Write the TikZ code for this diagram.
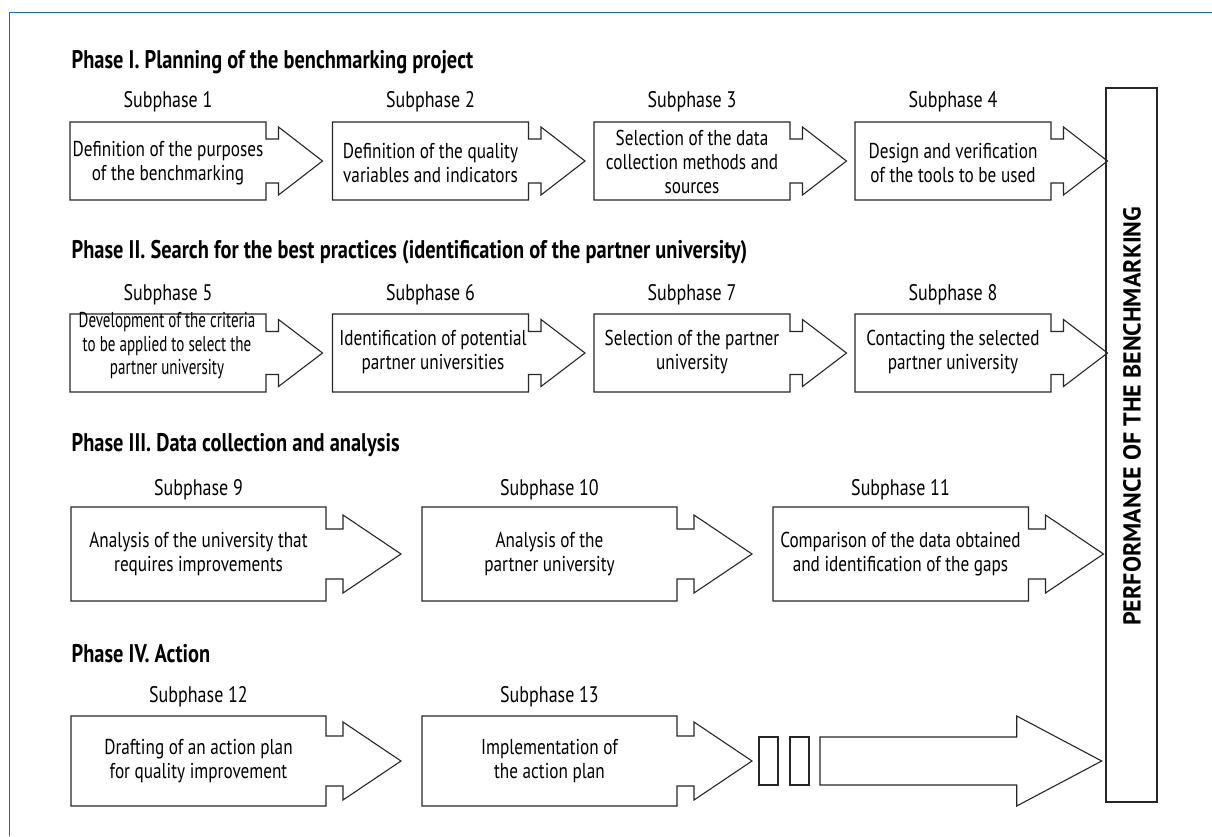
\documentclass[tikz,border=0pt]{standalone}
\usepackage{fontspec}
\setmainfont{PT Sans}[FakeStretch=0.80]
\newfontfamily\perffont{PT Sans}[FakeStretch=0.98]
\newfontfamily\tightfont{PT Sans}[FakeStretch=0.70]
\begin{document}
\begin{tikzpicture}[x=1pt,y=-1pt,
  shapeline/.style={draw=black!85,line width=1.1pt,line join=miter},
  frameline/.style={draw=framecol,line width=1.4pt},
  phasetitle/.style={anchor=west,inner sep=0pt,font=\fontsize{25.5}{28}\selectfont\bfseries},
  sublabel/.style={inner sep=0pt,font=\fontsize{22.5}{25}\selectfont},
  boxtext/.style={inner sep=0pt,align=center,font=\fontsize{21.5}{24}\selectfont},
  perfstyle/.style={inner sep=0pt,rotate=90,anchor=west,font=\perffont\fontsize{24.5}{27}\selectfont\bfseries}
]
\definecolor{framecol}{RGB}{20,105,175}
\useasboundingbox (0,0) rectangle (1212,836);
% arrow-box shape: left, right, centre y, half height, head half, notch half, step, head length
\newcommand\chevbox[8]{%
  \draw[shapeline] (#1,#3-#4) -- (#2,#3-#4) -- (#2,#3-#6) -- (#2+#7,#3-#6) -- (#2+#7,#3-#5)
    -- (#2+#7+#8,#3) -- (#2+#7,#3+#5) -- (#2+#7,#3+#6) -- (#2,#3+#6) -- (#2,#3+#4)
    -- (#1,#3+#4) -- cycle;}
% frame
\coordinate (ftr) at (1212,12.7);
\coordinate (ftl) at (9.3,12.7);
\coordinate (fbl) at (9.3,836);
\draw[frameline] (ftr) -- (ftl) -- (fbl);

% big box
\node[shapeline,minimum width=51pt,minimum height=714pt,inner sep=0pt] (perf) at (1131.5,445) {};
\node[perfstyle] (perftext) at (1132,626) {PERFORMANCE OF THE BENCHMARKING};

% Phase I
\node[phasetitle] (ph1) at (71.5,62) {Phase I. Planning of the benchmarking project};
\chevbox{70}{266}{161}{39}{34}{22}{12.5}{44}
\chevbox{332.5}{528.5}{161}{39}{34}{22}{12.5}{44}
\chevbox{594}{790}{161}{39}{34}{22}{12.5}{44}
\chevbox{855}{1051}{161}{39}{34}{22}{12.5}{44}
\node[sublabel] (s1) at (168,102) {Subphase 1};
\node[sublabel] (s2) at (430.5,102) {Subphase 2};
\node[sublabel] (s3) at (692,102) {Subphase 3};
\node[sublabel] (s4) at (953,102) {Subphase 4};
\node[boxtext] (t1) at (168,163) {Definition of the purposes\\of the benchmarking};
\node[boxtext] (t2) at (430.5,163) {Definition of the quality\\variables and indicators};
\node[boxtext] (t3) at (692,162) {Selection of the data\\collection methods and\\sources};
\node[boxtext] (t4) at (953,163) {Design and verification\\of the tools to be used};

% Phase II
\node[phasetitle] (ph2) at (71.5,252) {Phase II. Search for the best practices (identification of the partner university)};
\chevbox{70}{266}{353}{39}{33.5}{21.5}{12.5}{44}
\chevbox{332.5}{528.5}{353}{39}{33.5}{21.5}{12.5}{44}
\chevbox{594}{790}{353}{39}{33.5}{21.5}{12.5}{44}
\chevbox{855}{1051}{353}{39}{33.5}{21.5}{12.5}{44}
\node[sublabel] (s5) at (168,295) {Subphase 5};
\node[sublabel] (s6) at (430.5,295) {Subphase 6};
\node[sublabel] (s7) at (692,295) {Subphase 7};
\node[sublabel] (s8) at (953,295) {Subphase 8};
\node[boxtext,font=\tightfont\fontsize{21.5}{23.5}\selectfont] (t5) at (167,346) {Development of the criteria\\to be applied to select the\\partner university};
\node[boxtext] (t6) at (433,352) {Identification of potential\\partner universities};
\node[boxtext] (t7) at (692,352) {Selection of the partner\\university};
\node[boxtext] (t8) at (953,352) {Contacting the selected\\partner university};

% Phase III
\node[phasetitle] (ph3) at (71.5,445) {Phase III. Data collection and analysis};
\chevbox{71}{326}{554}{47}{39}{25}{17}{58}
\chevbox{422}{677}{554}{47}{39}{25}{17}{58}
\chevbox{773}{1028.5}{554}{47}{39}{25}{17}{58}
\node[sublabel] (s9) at (198.5,490) {Subphase 9};
\node[sublabel] (s10) at (549.5,490) {Subphase 10};
\node[sublabel] (s11) at (900.5,490) {Subphase 11};
\node[boxtext] (t9) at (198.5,554) {Analysis of the university that\\requires improvements};
\node[boxtext] (t10) at (549.5,554) {Analysis of the\\partner university};
\node[boxtext] (t11) at (900.5,554) {Comparison of the data obtained\\and identification of the gaps};

% Phase IV
\node[phasetitle] (ph4) at (71.5,654) {Phase IV. Action};
\chevbox{71}{326}{761}{45}{39}{25}{17}{58}
\chevbox{422}{677}{761}{45}{39}{25}{17}{58}
\node[sublabel] (s12) at (198.5,697) {Subphase 12};
\node[sublabel] (s13) at (549.5,697) {Subphase 13};
\node[boxtext] (t12) at (198.5,761) {Drafting of an action plan\\for quality improvement};
\node[boxtext] (t13) at (549.5,761) {Implementation of\\the action plan};
% small bars and big arrow
\draw[shapeline] (759,737) rectangle (778,785);
\draw[shapeline] (790,737) rectangle (809,785);
\draw[shapeline] (820,737) -- (1016.7,737) -- (1016.7,716) -- (1101.7,761) -- (1016.7,806) -- (1016.7,785) -- (820,785) -- cycle;
\end{tikzpicture}
\end{document}
